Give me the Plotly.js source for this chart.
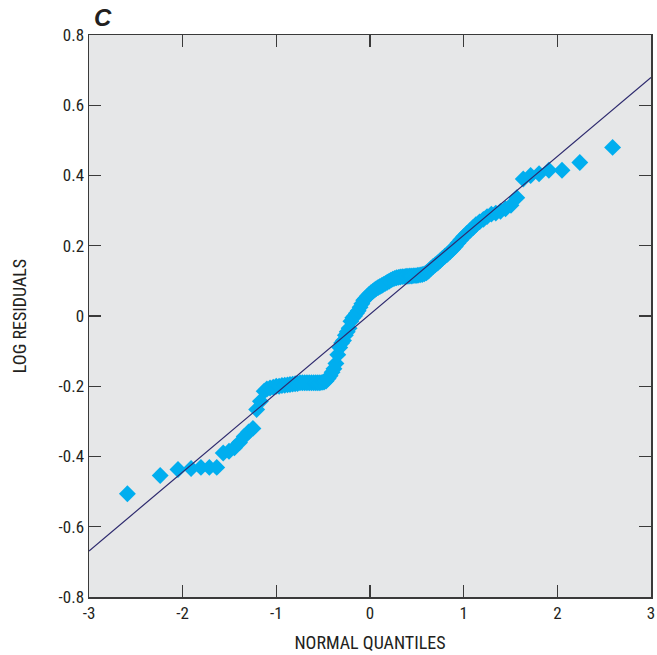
<!DOCTYPE html>
<html>
<head>
<meta charset="utf-8">
<script src="https://cdn.plot.ly/plotly-3.0.1.min.js"></script>
<style>html,body{margin:0;padding:0;background:#fff;}#chart{width:657px;height:655px;}</style>
</head>
<body>
<div id="chart"></div>
<script>
// Normal quantiles (x) and log residuals (y)
var quantiles = [
 -2.59,-2.24,-2.05,-1.91,-1.805,-1.715,-1.636,-1.567,-1.505,-1.447,
 -1.393,-1.343,-1.296,-1.25,-1.21,-1.17,-1.13,-1.101,-1.067,-1.033,
 -1.001,-0.97,-0.94,-0.91,-0.881,-0.854,-0.826,-0.799,-0.773,-0.747,
 -0.722,-0.697,-0.673,-0.649,-0.625,-0.602,-0.579,-0.557,-0.535,-0.512,
 -0.491,-0.469,-0.447,-0.426,-0.405,-0.385,-0.364,-0.344,-0.323,-0.303,
 -0.283,-0.263,-0.243,-0.223,-0.204,-0.184,-0.165,-0.145,-0.126,-0.106,
 -0.087,-0.067,-0.048,-0.029,-0.010,
 0.010,0.029,0.048,0.067,0.087,0.106,0.126,0.145,0.165,0.184,
 0.204,0.223,0.243,0.263,0.283,0.303,0.323,0.344,0.364,0.385,
 0.405,0.426,0.447,0.469,0.491,0.512,0.535,0.557,0.579,0.602,
 0.625,0.649,0.673,0.697,0.722,0.747,0.773,0.799,0.826,0.854,
 0.881,0.91,0.94,0.97,1.001,1.033,1.067,1.101,1.13,1.17,
 1.21,1.25,1.296,1.343,1.393,1.447,1.505,1.567,1.636,1.715,
 1.805,1.91,2.05,2.24,2.59
];
var residuals = [
 -0.506,-0.454,-0.437,-0.434,-0.431,-0.431,-0.431,-0.39,-0.385,-0.375,
 -0.36,-0.343,-0.33,-0.32,-0.266,-0.243,-0.214,-0.208,-0.205,-0.203,
 -0.2,-0.2,-0.198,-0.197,-0.196,-0.195,-0.194,-0.193,-0.192,-0.19,
 -0.19,-0.19,-0.19,-0.19,-0.19,-0.19,-0.19,-0.19,-0.19,-0.189,
 -0.188,-0.185,-0.178,-0.17,-0.16,-0.15,-0.135,-0.11,-0.09,-0.077,
 -0.07,-0.055,-0.045,-0.035,-0.015,-0.005,0.0,0.008,0.015,0.025,
 0.035,0.045,0.05,0.056,0.061,
 0.066,0.07,0.074,0.078,0.081,0.084,0.087,0.09,0.093,0.096,
 0.099,0.102,0.105,0.107,0.109,0.11,0.111,0.112,0.112,0.113,
 0.113,0.114,0.114,0.115,0.115,0.116,0.117,0.118,0.12,0.123,
 0.128,0.135,0.141,0.146,0.151,0.157,0.164,0.17,0.176,0.183,
 0.19,0.198,0.208,0.217,0.226,0.235,0.243,0.252,0.26,0.268,
 0.275,0.283,0.29,0.293,0.298,0.305,0.315,0.337,0.39,0.40,
 0.405,0.415,0.415,0.437,0.48
];
// Fitted reference line endpoints
var lineX = [-3, 3];
var lineY = [-0.669, 0.679];
// Tick labels
var xTickVals = [-3,-2,-1,0,1,2,3];
var xTickText = ["-3","-2","-1","0","1","2","3"];
var yTickVals = [-0.8,-0.6,-0.4,-0.2,0,0.2,0.4,0.6,0.8];
var yTickText = ["-0.8","-0.6","-0.4","-0.2","0","0.2","0.4","0.6","0.8"];

var FONT = "'Liberation Sans Narrow', 'Arial Narrow', 'Roboto Condensed', Roboto, sans-serif";

var traces = [
 {
  x: quantiles, y: residuals, type: 'scatter', mode: 'markers',
  marker: {symbol: 'diamond', size: 13, color: '#00aeef', line: {width: 0}},
  hoverinfo: 'skip', showlegend: false, cliponaxis: false
 },
 {
  x: lineX, y: lineY, type: 'scatter', mode: 'lines',
  line: {color: '#2e2a6e', width: 1.2},
  hoverinfo: 'skip', showlegend: false
 }
];

var axisCommon = {
  showgrid: false, zeroline: false, showline: true, mirror: 'ticks',
  linecolor: '#3a3a3a', linewidth: 1.5,
  ticks: 'inside', ticklen: 12, tickwidth: 1.2, tickcolor: '#3a3a3a',
  tickmode: 'array', tickfont: {family: FONT, size: 17, color: '#231f20'}
};

var layout = {
  width: 657, height: 655,
  margin: {l: 89, r: 6, t: 35, b: 58, pad: 0},
  paper_bgcolor: '#ffffff', plot_bgcolor: '#e6e7e8',
  font: {family: FONT, color: '#231f20'},
  xaxis: Object.assign({}, axisCommon, {
    range: [-3, 3], tickvals: xTickVals, ticktext: xTickText,
    title: {text: 'NORMAL QUANTILES', font: {family: FONT, size: 18, color: '#231f20'}, standoff: 14}
  }),
  yaxis: Object.assign({}, axisCommon, {
    range: [-0.8, 0.8], tickvals: yTickVals, ticktext: yTickText,
    title: {text: 'LOG RESIDUALS', font: {family: FONT, size: 18, color: '#231f20'}, standoff: 27}
  }),
  annotations: [{
    text: '<b><i>C</i></b>', xref: 'paper', yref: 'paper', x: 0.005, y: 1.003,
    xanchor: 'left', yanchor: 'bottom', showarrow: false,
    font: {family: "'Liberation Sans', Arial, sans-serif", size: 24, color: '#231f20'}
  }]
};

Plotly.newPlot('chart', traces, layout, {displayModeBar: false, staticPlot: true});
</script>
</body>
</html>
